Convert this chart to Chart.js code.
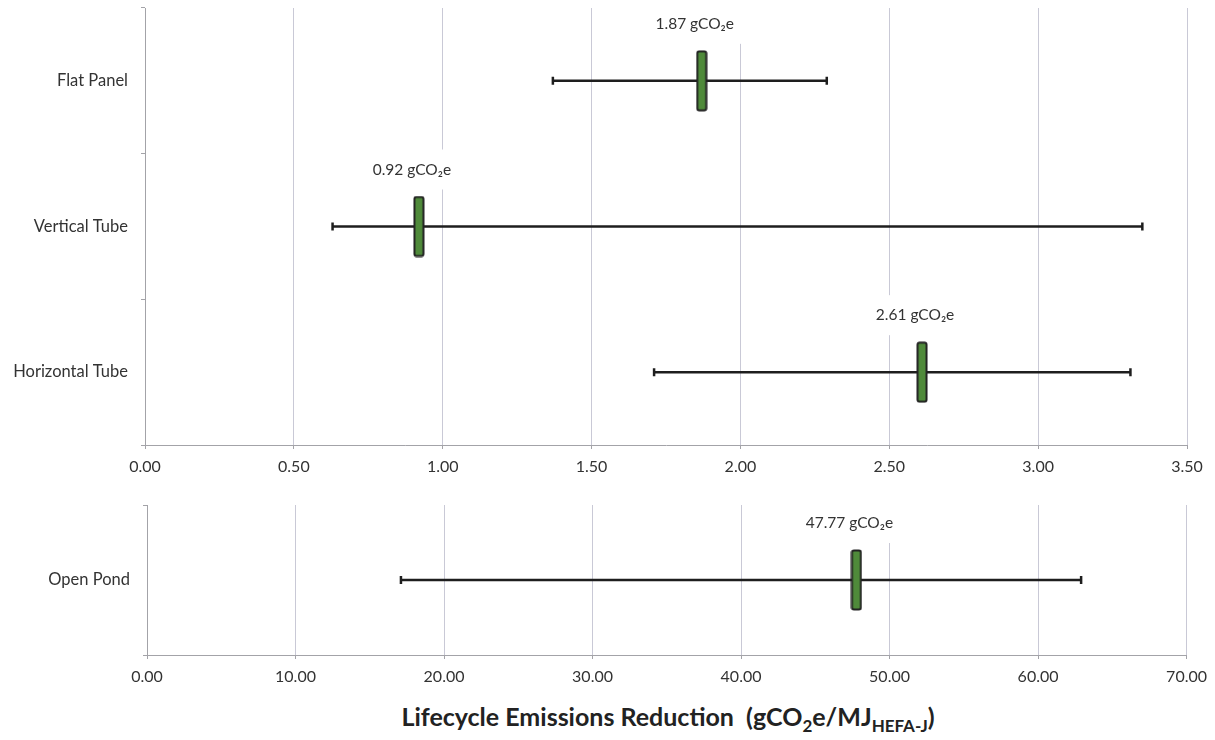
<!DOCTYPE html>
<html>
<head>
<meta charset="utf-8">
<script src="https://cdn.jsdelivr.net/npm/chart.js@4.4.0/dist/chart.umd.min.js"></script>
<style>
body{margin:0;background:#fff;font-family:Lato,"Open Sans",sans-serif;}
#wrap{position:relative;width:1215px;height:740px;overflow:hidden;}
#alto{position:absolute;left:0;top:0;}
#basso{position:absolute;left:0;top:495px;}
#titolo{position:absolute;top:701px;left:147px;width:1042px;text-align:center;font-weight:bold;font-size:25px;color:#222;white-space:nowrap;}
#titolo sub{font-size:17px;}
</style>
</head>
<body>
<div id="wrap">
	<canvas id="alto" width="1215" height="485"></canvas>
	<canvas id="basso" width="1215" height="200"></canvas>
	<div id="titolo">Lifecycle Emissions Reduction&nbsp; (gCO<sub>2</sub>e/MJ<sub>HEFA-J</sub>)</div>
</div>
<script>
// ---- dati grafico superiore (fotobioreattori) ----
const categorie = ['Flat Panel', 'Vertical Tube', 'Horizontal Tube'];
const media = [1.87, 0.92, 2.61];
const minimo = [1.37, 0.63, 1.71];
const massimo = [2.29, 3.35, 3.31];
const tickAlto = [0, 0.5, 1, 1.5, 2, 2.5, 3, 3.5];

// ---- dati grafico inferiore (open pond) ----
const categorieStagno = ['Open Pond'];
const mediaStagno = [47.77];
const minimoStagno = [17.1];
const massimoStagno = [62.9];
const tickBasso = [0, 10, 20, 30, 40, 50, 60, 70];

const GRIGLIA = '#c9c9d6';
const ASSE = '#a3a3a8';
const TESTO = '#333';
const FONT = 'Lato, "Open Sans", sans-serif';

// rettangolino verde usato come marker
function creaMarker(){
	const c = document.createElement('canvas');
	c.width = 12;
	c.height = 62;
	const ctx = c.getContext('2d');
	ctx.fillStyle = '#4f8a3a';
	ctx.strokeStyle = '#222';
	ctx.lineWidth = 2;
	ctx.beginPath();
	ctx.roundRect(1.5, 1.5, 9, 59, 2);
	ctx.fill();
	ctx.stroke();
	return c;
}
const marker = creaMarker();

// etichette "x.xx gCO2e" con sfondo bianco sopra il marker
const etichette = {
	id: 'etichette',
	afterDatasetsDraw(chart){
		const ds = chart.data.datasets;
		const idx = ds.findIndex(d => d.isMedia);
		if(idx < 0) return;
		const meta = chart.getDatasetMeta(idx);
		const ctx = chart.ctx;
		ctx.save();
		ctx.font = '15.5px ' + FONT;
		ctx.textAlign = 'center';
		ctx.textBaseline = 'middle';
		meta.data.forEach((p, i) => {
			const testo = ds[idx].data[i].x.toFixed(2) + ' gCO\u2082e';
			const w = ctx.measureText(testo).width + 16;
			const x = p.x - 7;
			const y = p.y - 57;
			ctx.fillStyle = '#fff';
			ctx.fillRect(x - w / 2, y - 20, w, 40);
			ctx.fillStyle = TESTO;
			ctx.fillText(testo, x, y);
		});
		ctx.restore();
	}
};

function creaDataset(cat, med, lo, hi){
	const out = [];
	cat.forEach((c, i) => {
		out.push({
			data: [{x: lo[i], y: c}, {x: hi[i], y: c}],
			borderColor: '#1e1e1e',
			borderWidth: 2.5,
			pointStyle: 'line',
			pointRotation: 90,
			pointRadius: 4,
			pointHoverRadius: 4,
			pointBorderWidth: 2.5,
			pointBorderColor: '#1e1e1e',
			order: 2
		});
	});
	out.push({
		isMedia: true,
		data: cat.map((c, i) => ({x: med[i], y: c})),
		showLine: false,
		pointStyle: marker,
		pointRadius: 6,
		order: 1
	});
	return out;
}

function creaGrafico(id, cat, med, lo, hi, ticks, yWidth, padTop, padRight, xHeight){
	const ctx = document.getElementById(id).getContext('2d');
	return new Chart(ctx, {
		type: 'line',
		data: {
			labels: cat,
			datasets: creaDataset(cat, med, lo, hi)
		},
		options: {
			responsive: false,
			animation: false,
			layout: { padding: { top: padTop, right: padRight, left: 0, bottom: 0 } },
			plugins: { legend: { display: false }, tooltip: { enabled: false } },
			scales: {
				x: {
					type: 'linear',
					min: ticks[0],
					max: ticks[ticks.length - 1],
					afterBuildTicks: s => { s.ticks = ticks.map(v => ({value: v})); },
					afterFit: s => { s.height = xHeight; },
					grid: { color: GRIGLIA, tickColor: ASSE, tickLength: 4 },
					border: { color: ASSE },
					ticks: {
						padding: 8,
						color: TESTO,
						font: { family: FONT, size: 16 },
						callback: v => Number(v).toFixed(2)
					}
				},
				y: {
					type: 'category',
					labels: cat,
					offset: true,
					afterFit: s => {
						s.width = yWidth;
						s.paddingTop = 0;
						s.paddingBottom = 0;
					},
					grid: { offset: true, drawOnChartArea: false, tickColor: ASSE, tickLength: 4 },
					border: { color: ASSE },
					ticks: {
						padding: 13,
						color: TESTO,
						font: { family: FONT, size: 16.5 }
					}
				}
			}
		},
		plugins: [etichette]
	});
}

creaGrafico('alto', categorie, media, minimo, massimo, tickAlto, 145, 8, 28, 40);
creaGrafico('basso', categorieStagno, mediaStagno, minimoStagno, massimoStagno, tickBasso, 147, 10, 26, 40);
</script>
</body>
</html>
